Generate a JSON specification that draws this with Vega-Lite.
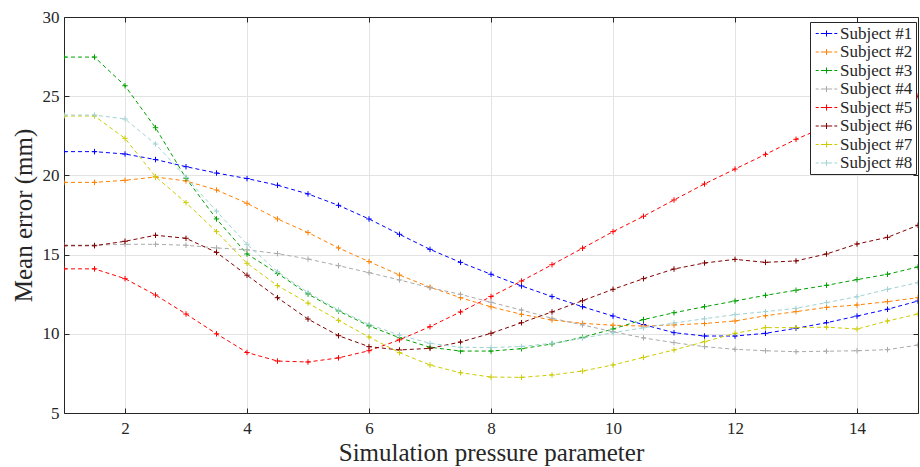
{
  "$schema": "https://vega.github.io/schema/vega-lite/v6.json",
  "width": 854,
  "height": 396,
  "autosize": {"type": "none"},
  "padding": {"left": 64, "top": 17, "right": 2, "bottom": 54},
  "background": "white",
  "config": {
    "font": "Liberation Serif",
    "view": {"stroke": null},
    "style": {"guide-label": {"font": "Liberation Serif"}},
    "legend": {"labelFont": "Liberation Serif", "labelFontSize": 17, "labelColor": "#262626"}
  },
  "datasets": {
    "curves": [
      {"s":"Subject #1","p":1,"e":21.5},{"s":"Subject #1","p":1.5,"e":21.5},{"s":"Subject #1","p":2,"e":21.35},{"s":"Subject #1","p":2.5,"e":21.0},{"s":"Subject #1","p":3,"e":20.55},{"s":"Subject #1","p":3.5,"e":20.15},{"s":"Subject #1","p":4,"e":19.8},{"s":"Subject #1","p":4.5,"e":19.38},{"s":"Subject #1","p":5,"e":18.83},{"s":"Subject #1","p":5.5,"e":18.11},{"s":"Subject #1","p":6,"e":17.25},{"s":"Subject #1","p":6.5,"e":16.28},{"s":"Subject #1","p":7,"e":15.33},{"s":"Subject #1","p":7.5,"e":14.51},{"s":"Subject #1","p":8,"e":13.76},{"s":"Subject #1","p":8.5,"e":13.02},{"s":"Subject #1","p":9,"e":12.35},{"s":"Subject #1","p":9.5,"e":11.71},{"s":"Subject #1","p":10,"e":11.12},{"s":"Subject #1","p":10.5,"e":10.58},{"s":"Subject #1","p":11,"e":10.07},{"s":"Subject #1","p":11.5,"e":9.86},{"s":"Subject #1","p":12,"e":9.86},{"s":"Subject #1","p":12.5,"e":10.03},{"s":"Subject #1","p":13,"e":10.35},{"s":"Subject #1","p":13.5,"e":10.7},{"s":"Subject #1","p":14,"e":11.12},{"s":"Subject #1","p":14.5,"e":11.55},{"s":"Subject #1","p":15,"e":12.07},
      {"s":"Subject #2","p":1,"e":19.56},{"s":"Subject #2","p":1.5,"e":19.56},{"s":"Subject #2","p":2,"e":19.69},{"s":"Subject #2","p":2.5,"e":19.9},{"s":"Subject #2","p":3,"e":19.65},{"s":"Subject #2","p":3.5,"e":19.08},{"s":"Subject #2","p":4,"e":18.24},{"s":"Subject #2","p":4.5,"e":17.25},{"s":"Subject #2","p":5,"e":16.39},{"s":"Subject #2","p":5.5,"e":15.42},{"s":"Subject #2","p":6,"e":14.56},{"s":"Subject #2","p":6.5,"e":13.71},{"s":"Subject #2","p":7,"e":12.94},{"s":"Subject #2","p":7.5,"e":12.28},{"s":"Subject #2","p":8,"e":11.7},{"s":"Subject #2","p":8.5,"e":11.23},{"s":"Subject #2","p":9,"e":10.87},{"s":"Subject #2","p":9.5,"e":10.66},{"s":"Subject #2","p":10,"e":10.54},{"s":"Subject #2","p":10.5,"e":10.49},{"s":"Subject #2","p":11,"e":10.56},{"s":"Subject #2","p":11.5,"e":10.65},{"s":"Subject #2","p":12,"e":10.81},{"s":"Subject #2","p":12.5,"e":11.14},{"s":"Subject #2","p":13,"e":11.4},{"s":"Subject #2","p":13.5,"e":11.67},{"s":"Subject #2","p":14,"e":11.82},{"s":"Subject #2","p":14.5,"e":12.03},{"s":"Subject #2","p":15,"e":12.28},
      {"s":"Subject #3","p":1,"e":27.47},{"s":"Subject #3","p":1.5,"e":27.47},{"s":"Subject #3","p":2,"e":25.66},{"s":"Subject #3","p":2.5,"e":23.01},{"s":"Subject #3","p":3,"e":19.82},{"s":"Subject #3","p":3.5,"e":17.25},{"s":"Subject #3","p":4,"e":15.04},{"s":"Subject #3","p":4.5,"e":13.82},{"s":"Subject #3","p":5,"e":12.51},{"s":"Subject #3","p":5.5,"e":11.44},{"s":"Subject #3","p":6,"e":10.5},{"s":"Subject #3","p":6.5,"e":9.75},{"s":"Subject #3","p":7,"e":9.15},{"s":"Subject #3","p":7.5,"e":8.91},{"s":"Subject #3","p":8,"e":8.91},{"s":"Subject #3","p":8.5,"e":9.06},{"s":"Subject #3","p":9,"e":9.36},{"s":"Subject #3","p":9.5,"e":9.78},{"s":"Subject #3","p":10,"e":10.3},{"s":"Subject #3","p":10.5,"e":10.9},{"s":"Subject #3","p":11,"e":11.33},{"s":"Subject #3","p":11.5,"e":11.71},{"s":"Subject #3","p":12,"e":12.07},{"s":"Subject #3","p":12.5,"e":12.43},{"s":"Subject #3","p":13,"e":12.75},{"s":"Subject #3","p":13.5,"e":13.06},{"s":"Subject #3","p":14,"e":13.42},{"s":"Subject #3","p":14.5,"e":13.76},{"s":"Subject #3","p":15,"e":14.22},
      {"s":"Subject #4","p":1,"e":15.6},{"s":"Subject #4","p":1.5,"e":15.6},{"s":"Subject #4","p":2,"e":15.65},{"s":"Subject #4","p":2.5,"e":15.65},{"s":"Subject #4","p":3,"e":15.59},{"s":"Subject #4","p":3.5,"e":15.42},{"s":"Subject #4","p":4,"e":15.3},{"s":"Subject #4","p":4.5,"e":15.06},{"s":"Subject #4","p":5,"e":14.72},{"s":"Subject #4","p":5.5,"e":14.3},{"s":"Subject #4","p":6,"e":13.86},{"s":"Subject #4","p":6.5,"e":13.4},{"s":"Subject #4","p":7,"e":12.91},{"s":"Subject #4","p":7.5,"e":12.49},{"s":"Subject #4","p":8,"e":11.99},{"s":"Subject #4","p":8.5,"e":11.5},{"s":"Subject #4","p":9,"e":10.98},{"s":"Subject #4","p":9.5,"e":10.56},{"s":"Subject #4","p":10,"e":10.13},{"s":"Subject #4","p":10.5,"e":9.74},{"s":"Subject #4","p":11,"e":9.44},{"s":"Subject #4","p":11.5,"e":9.19},{"s":"Subject #4","p":12,"e":9.02},{"s":"Subject #4","p":12.5,"e":8.93},{"s":"Subject #4","p":13,"e":8.87},{"s":"Subject #4","p":13.5,"e":8.9},{"s":"Subject #4","p":14,"e":8.93},{"s":"Subject #4","p":14.5,"e":9.0},{"s":"Subject #4","p":15,"e":9.29},
      {"s":"Subject #5","p":1,"e":14.1},{"s":"Subject #5","p":1.5,"e":14.1},{"s":"Subject #5","p":2,"e":13.48},{"s":"Subject #5","p":2.5,"e":12.45},{"s":"Subject #5","p":3,"e":11.25},{"s":"Subject #5","p":3.5,"e":10.0},{"s":"Subject #5","p":4,"e":8.82},{"s":"Subject #5","p":4.5,"e":8.28},{"s":"Subject #5","p":5,"e":8.22},{"s":"Subject #5","p":5.5,"e":8.48},{"s":"Subject #5","p":6,"e":8.93},{"s":"Subject #5","p":6.5,"e":9.62},{"s":"Subject #5","p":7,"e":10.45},{"s":"Subject #5","p":7.5,"e":11.38},{"s":"Subject #5","p":8,"e":12.35},{"s":"Subject #5","p":8.5,"e":13.33},{"s":"Subject #5","p":9,"e":14.36},{"s":"Subject #5","p":9.5,"e":15.4},{"s":"Subject #5","p":10,"e":16.45},{"s":"Subject #5","p":10.5,"e":17.42},{"s":"Subject #5","p":11,"e":18.45},{"s":"Subject #5","p":11.5,"e":19.46},{"s":"Subject #5","p":12,"e":20.4},{"s":"Subject #5","p":12.5,"e":21.33},{"s":"Subject #5","p":13,"e":22.28},{"s":"Subject #5","p":13.5,"e":23.1},{"s":"Subject #5","p":14,"e":23.8},{"s":"Subject #5","p":14.5,"e":24.45},{"s":"Subject #5","p":15,"e":25.01},
      {"s":"Subject #6","p":1,"e":15.56},{"s":"Subject #6","p":1.5,"e":15.56},{"s":"Subject #6","p":2,"e":15.84},{"s":"Subject #6","p":2.5,"e":16.22},{"s":"Subject #6","p":3,"e":16.03},{"s":"Subject #6","p":3.5,"e":15.14},{"s":"Subject #6","p":4,"e":13.7},{"s":"Subject #6","p":4.5,"e":12.28},{"s":"Subject #6","p":5,"e":10.93},{"s":"Subject #6","p":5.5,"e":9.88},{"s":"Subject #6","p":6,"e":9.19},{"s":"Subject #6","p":6.5,"e":8.98},{"s":"Subject #6","p":7,"e":9.08},{"s":"Subject #6","p":7.5,"e":9.48},{"s":"Subject #6","p":8,"e":10.03},{"s":"Subject #6","p":8.5,"e":10.7},{"s":"Subject #6","p":9,"e":11.38},{"s":"Subject #6","p":9.5,"e":12.09},{"s":"Subject #6","p":10,"e":12.81},{"s":"Subject #6","p":10.5,"e":13.48},{"s":"Subject #6","p":11,"e":14.09},{"s":"Subject #6","p":11.5,"e":14.47},{"s":"Subject #6","p":12,"e":14.7},{"s":"Subject #6","p":12.5,"e":14.51},{"s":"Subject #6","p":13,"e":14.6},{"s":"Subject #6","p":13.5,"e":15.04},{"s":"Subject #6","p":14,"e":15.67},{"s":"Subject #6","p":14.5,"e":16.09},{"s":"Subject #6","p":15,"e":16.85},
      {"s":"Subject #7","p":1,"e":23.75},{"s":"Subject #7","p":1.5,"e":23.75},{"s":"Subject #7","p":2,"e":22.34},{"s":"Subject #7","p":2.5,"e":19.92},{"s":"Subject #7","p":3,"e":18.28},{"s":"Subject #7","p":3.5,"e":16.45},{"s":"Subject #7","p":4,"e":14.45},{"s":"Subject #7","p":4.5,"e":13.04},{"s":"Subject #7","p":5,"e":11.94},{"s":"Subject #7","p":5.5,"e":10.85},{"s":"Subject #7","p":6,"e":9.8},{"s":"Subject #7","p":6.5,"e":8.81},{"s":"Subject #7","p":7,"e":8.03},{"s":"Subject #7","p":7.5,"e":7.54},{"s":"Subject #7","p":8,"e":7.27},{"s":"Subject #7","p":8.5,"e":7.25},{"s":"Subject #7","p":9,"e":7.4},{"s":"Subject #7","p":9.5,"e":7.65},{"s":"Subject #7","p":10,"e":8.03},{"s":"Subject #7","p":10.5,"e":8.51},{"s":"Subject #7","p":11,"e":8.98},{"s":"Subject #7","p":11.5,"e":9.5},{"s":"Subject #7","p":12,"e":10.03},{"s":"Subject #7","p":12.5,"e":10.39},{"s":"Subject #7","p":13,"e":10.39},{"s":"Subject #7","p":13.5,"e":10.42},{"s":"Subject #7","p":14,"e":10.3},{"s":"Subject #7","p":14.5,"e":10.81},{"s":"Subject #7","p":15,"e":11.25},
      {"s":"Subject #8","p":1,"e":23.81},{"s":"Subject #8","p":1.5,"e":23.81},{"s":"Subject #8","p":2,"e":23.56},{"s":"Subject #8","p":2.5,"e":21.98},{"s":"Subject #8","p":3,"e":19.88},{"s":"Subject #8","p":3.5,"e":17.74},{"s":"Subject #8","p":4,"e":15.65},{"s":"Subject #8","p":4.5,"e":13.92},{"s":"Subject #8","p":5,"e":12.6},{"s":"Subject #8","p":5.5,"e":11.5},{"s":"Subject #8","p":6,"e":10.59},{"s":"Subject #8","p":6.5,"e":9.92},{"s":"Subject #8","p":7,"e":9.4},{"s":"Subject #8","p":7.5,"e":9.15},{"s":"Subject #8","p":8,"e":9.13},{"s":"Subject #8","p":8.5,"e":9.2},{"s":"Subject #8","p":9,"e":9.4},{"s":"Subject #8","p":9.5,"e":9.72},{"s":"Subject #8","p":10,"e":10.07},{"s":"Subject #8","p":10.5,"e":10.38},{"s":"Subject #8","p":11,"e":10.68},{"s":"Subject #8","p":11.5,"e":10.95},{"s":"Subject #8","p":12,"e":11.21},{"s":"Subject #8","p":12.5,"e":11.4},{"s":"Subject #8","p":13,"e":11.61},{"s":"Subject #8","p":13.5,"e":11.97},{"s":"Subject #8","p":14,"e":12.34},{"s":"Subject #8","p":14.5,"e":12.81},{"s":"Subject #8","p":15,"e":13.23}
    ]
  },
  "data": {"name": "curves"},
  "resolve": {"axis": {"x": "independent", "y": "independent"}},
  "layer": [
    {
      "mark": {"type": "line", "strokeDash": [4, 3], "strokeWidth": 1, "clip": true},
      "encoding": {
        "x": {"field": "p", "type": "quantitative",
              "scale": {"domain": [1, 15], "nice": false, "zero": false},
              "axis": {"orient": "bottom", "values": [2, 4, 6, 8, 10, 12, 14], "title": "Simulation pressure parameter",
                       "grid": true, "gridColor": "#e3e3e3", "gridWidth": 1,
                       "domainColor": "#262626", "domainWidth": 1, "tickColor": "#262626", "tickSize": -5,
                       "labelFont": "Liberation Serif", "labelFontSize": 17, "labelColor": "#262626", "labelPadding": 12,
                       "titleFont": "Liberation Serif", "titleFontSize": 25, "titleFontWeight": "normal", "titleColor": "#262626", "titlePadding": 4}},
        "y": {"field": "e", "type": "quantitative",
              "scale": {"domain": [5, 30], "nice": false, "zero": false},
              "axis": {"orient": "left", "values": [5, 10, 15, 20, 25, 30], "title": "Mean error (mm)",
                       "grid": true, "gridColor": "#e3e3e3", "gridWidth": 1,
                       "domainColor": "#262626", "domainWidth": 1, "tickColor": "#262626", "tickSize": -5,
                       "labelFont": "Liberation Serif", "labelFontSize": 17, "labelColor": "#262626", "labelPadding": 10,
                       "titleFont": "Liberation Serif", "titleFontSize": 25, "titleFontWeight": "normal", "titleColor": "#262626", "titlePadding": 6}},
        "color": {"field": "s", "type": "nominal",
                  "scale": {"domain": ["Subject #1","Subject #2","Subject #3","Subject #4","Subject #5","Subject #6","Subject #7","Subject #8"],
                            "range": ["#0000ff","#ff8000","#00a000","#aaaaaa","#ff0000","#800000","#cccc00","#a0d2d2"]},
                  "legend": {"title": null, "orient": "none", "legendX": 746, "legendY": 5,
                             "symbolType": "M-1.8,0H-1.3M-0.95,0H0.95M1.3,0H1.8M0,-0.5V0.5", "symbolSize": 144, "symbolStrokeWidth": 1, "symbolDash": [],
                             "labelFont": "Liberation Serif", "labelFontSize": 17, "labelColor": "#262626", "labelOffset": 5,
                             "strokeColor": "#262626", "fillColor": "white", "padding": 3, "rowPadding": 0.5, "symbolOffset": 5}},
        "order": {"field": "p", "type": "quantitative"}
      }
    },
    {
      "mark": {"type": "point", "shape": "M-1,0H1M0,-1V1", "filled": false, "size": 30, "strokeWidth": 1, "opacity": 1, "clip": true},
      "encoding": {
        "x": {"field": "p", "type": "quantitative",
              "scale": {"domain": [1, 15], "nice": false, "zero": false},
              "axis": {"orient": "top", "values": [2, 4, 6, 8, 10, 12, 14], "title": null, "labels": false, "grid": false,
                       "domainColor": "#262626", "domainWidth": 1, "tickColor": "#262626", "tickSize": -5}},
        "y": {"field": "e", "type": "quantitative",
              "scale": {"domain": [5, 30], "nice": false, "zero": false},
              "axis": {"orient": "right", "values": [5, 10, 15, 20, 25, 30], "title": null, "labels": false, "grid": false,
                       "domainColor": "#262626", "domainWidth": 1, "tickColor": "#262626", "tickSize": -5}},
        "color": {"field": "s", "type": "nominal",
                  "scale": {"domain": ["Subject #1","Subject #2","Subject #3","Subject #4","Subject #5","Subject #6","Subject #7","Subject #8"],
                            "range": ["#0000ff","#ff8000","#00a000","#aaaaaa","#ff0000","#800000","#cccc00","#a0d2d2"]},
                  "legend": {"title": null, "orient": "none", "legendX": 746, "legendY": 5,
                             "symbolType": "M-1.8,0H-1.3M-0.95,0H0.95M1.3,0H1.8M0,-0.5V0.5", "symbolSize": 144, "symbolStrokeWidth": 1, "symbolDash": [],
                             "labelFont": "Liberation Serif", "labelFontSize": 17, "labelColor": "#262626", "labelOffset": 5,
                             "strokeColor": "#262626", "fillColor": "white", "padding": 3, "rowPadding": 0.5, "symbolOffset": 5}}
      }
    }
  ]
}
